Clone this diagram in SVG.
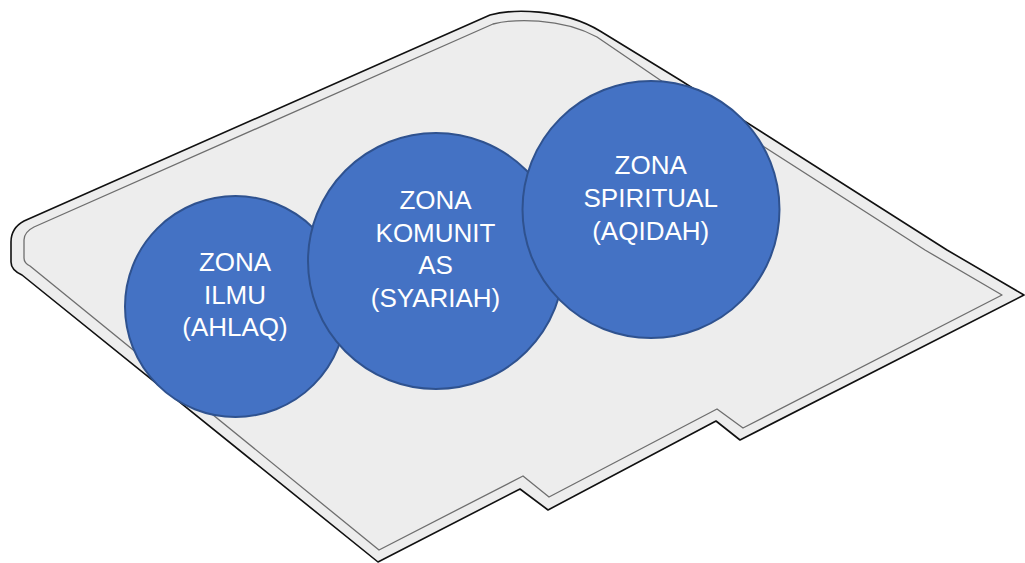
<svg xmlns="http://www.w3.org/2000/svg" width="1025" height="563" viewBox="0 0 1025 563">
  <style>
    .zone { fill: #4472C4; stroke: #2F528F; stroke-width: 2; }
    .lbl { fill: #FFFFFF; font-family: "Liberation Sans", Arial, sans-serif; font-size: 26px; text-anchor: middle; }
  </style>
  <rect width="1025" height="563" fill="#FFFFFF"/>
  <g id="site">
    <path d="M11,262 L11,242 Q11,228 24,221 L490,15 C512,9 562,8 600,31 L680,80 L947,250 L1024,295 L740,440 L716,421 L548,510 L520,489 L378,562 L22,275 Q11,270 11,262 Z" fill="#EDEDED" stroke="#111111" stroke-width="1.6" stroke-linejoin="round"/>
    <path d="M24,258 L24,240 Q24,232 34,227 L493,24 C513,19 560,17 597,37 L663,82 L925,250 L1002,295 L743,428 L717,409 L549,497 L523,476 L379,550 L30,266 Q24,263 24,258 Z" fill="none" stroke="#6E6E6E" stroke-width="1.3" stroke-linejoin="round"/>
  </g>
  <g id="zona-ilmu">
    <circle class="zone" cx="235.5" cy="306.5" r="110.5"/>
    <text class="lbl" x="235" y="271">ZONA</text>
    <text class="lbl" x="235" y="303.5">ILMU</text>
    <text class="lbl" x="235" y="336">(AHLAQ)</text>
  </g>
  <g id="zona-komunitas">
    <circle class="zone" cx="436" cy="261" r="128"/>
    <text class="lbl" x="435.5" y="208.5">ZONA</text>
    <text class="lbl" x="435.5" y="241.5">KOMUNIT</text>
    <text class="lbl" x="435.5" y="274">AS</text>
    <text class="lbl" x="435.5" y="306.5">(SYARIAH)</text>
  </g>
  <g id="zona-spiritual">
    <circle class="zone" cx="651" cy="209.5" r="128.5"/>
    <text class="lbl" x="650.7" y="174.3">ZONA</text>
    <text class="lbl" x="650.7" y="207">SPIRITUAL</text>
    <text class="lbl" x="650.7" y="240">(AQIDAH)</text>
  </g>
  <g id="connectors"/>
</svg>
